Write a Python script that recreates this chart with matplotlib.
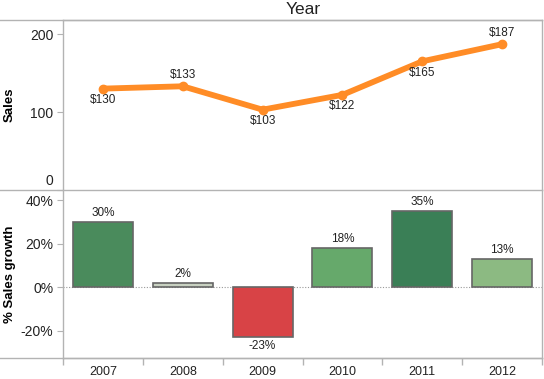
import matplotlib
matplotlib.use("Agg")
import matplotlib.pyplot as plt
from matplotlib.lines import Line2D

years = ["2007", "2008", "2009", "2010", "2011", "2012"]
sales = [130, 133, 103, 122, 165, 187]
growth = [30, 2, -23, 18, 35, 13]
bar_colors = ["#4a8b5c", "#c8d1c1", "#d84346", "#66a96b", "#3a7f56", "#8cba82"]
label_above = [False, True, False, False, False, True]

W, H = 544, 379
plt.rcParams['font.family'] = ['Liberation Sans', 'DejaVu Sans']
fig = plt.figure(figsize=(W / 100, H / 100), dpi=100)

def fx(px): return px / W
def fy(py): return 1 - py / H

left, right = 63, 542
top1, mid, bot = 20, 190, 358
ax1 = fig.add_axes([fx(left), fy(mid), fx(right - left), fy(top1) - fy(mid)])
ax2 = fig.add_axes([fx(left), fy(bot), fx(right - left), fy(mid) - fy(bot)])

frame = "#b3b3b3"
txt = "#222222"
x = list(range(len(years)))

# Top: Sales line
ax1.plot(x, sales, color="#ff8c26", lw=4.2, solid_capstyle="round", zorder=3)
ax1.plot(x, sales, "o", color="#ff8c26", ms=6, zorder=4)
for xi, v, up in zip(x, sales, label_above):
    ax1.annotate(f"${v}", (xi, v), xytext=(0, 4 if up else -4), textcoords="offset points",
                 ha="center", va="bottom" if up else "top", fontsize=8.5, color=txt)
ax1.set_xlim(-0.5, 5.5)
ax1.set_ylim(0, 218)
ax1.set_yticks([0, 100, 200])
ax1.set_yticklabels(["", "100", "200"])
ax1.annotate("0", xy=(0, 0), xycoords=("axes fraction", "data"), xytext=(-7, 6.5),
             textcoords="offset points", ha="right", va="center", fontsize=10, color=txt)
ax1.set_xticks([])
ax1.set_ylabel("Sales", fontsize=9.5, fontweight="bold", color="black")
ax1.yaxis.set_label_coords(-0.098, 0.5)

# Bottom: growth bars
ax2.bar(x, growth, width=0.75, color=bar_colors, edgecolor="#666666", linewidth=1.2, zorder=3)
ax2.axhline(0, color="#999999", lw=0.8, ls=(0, (1, 1.5)), zorder=1)
for xi, v in zip(x, growth):
    ax2.annotate(f"{v}%", (xi, v), xytext=(0, 2 if v >= 0 else -2), textcoords="offset points",
                 ha="center", va="bottom" if v >= 0 else "top", fontsize=8.5, color=txt)
ax2.set_xlim(-0.5, 5.5)
ax2.set_ylim(-32.5, 44.7)
ax2.set_yticks([-20, 0, 20, 40])
ax2.set_yticklabels(["-20%", "0%", "20%", "40%"])
ax2.set_xticks(x)
ax2.set_xticklabels(years)
ax2.set_xticks([i - 0.5 for i in range(len(years) + 1)], minor=True)
ax2.tick_params(axis="x", which="major", length=0, labelsize=9, pad=6, colors=txt)
ax2.tick_params(axis="x", which="minor", length=5, color=frame, width=1)
ax2.set_ylabel("% Sales growth", fontsize=9.5, fontweight="bold", color="black")
ax2.yaxis.set_label_coords(-0.098, 0.5)

for ax in (ax1, ax2):
    ax.tick_params(axis="y", length=4, color=frame, labelsize=10, labelcolor=txt, pad=3)
    for s in ax.spines.values():
        s.set_color(frame)
        s.set_linewidth(1)
    ax.set_facecolor("white")

ax1.spines["bottom"].set_visible(False)
ax2.spines["top"].set_visible(False)

# Full-width frame lines
for py in (top1, mid, bot):
    fig.add_artist(Line2D([0, fx(right)], [fy(py), fy(py)], color=frame, lw=1))

fig.text(fx(303), fy(10), "Year", ha="center", va="center", fontsize=12.5, color=txt)

fig.savefig("out.png", dpi=100)
